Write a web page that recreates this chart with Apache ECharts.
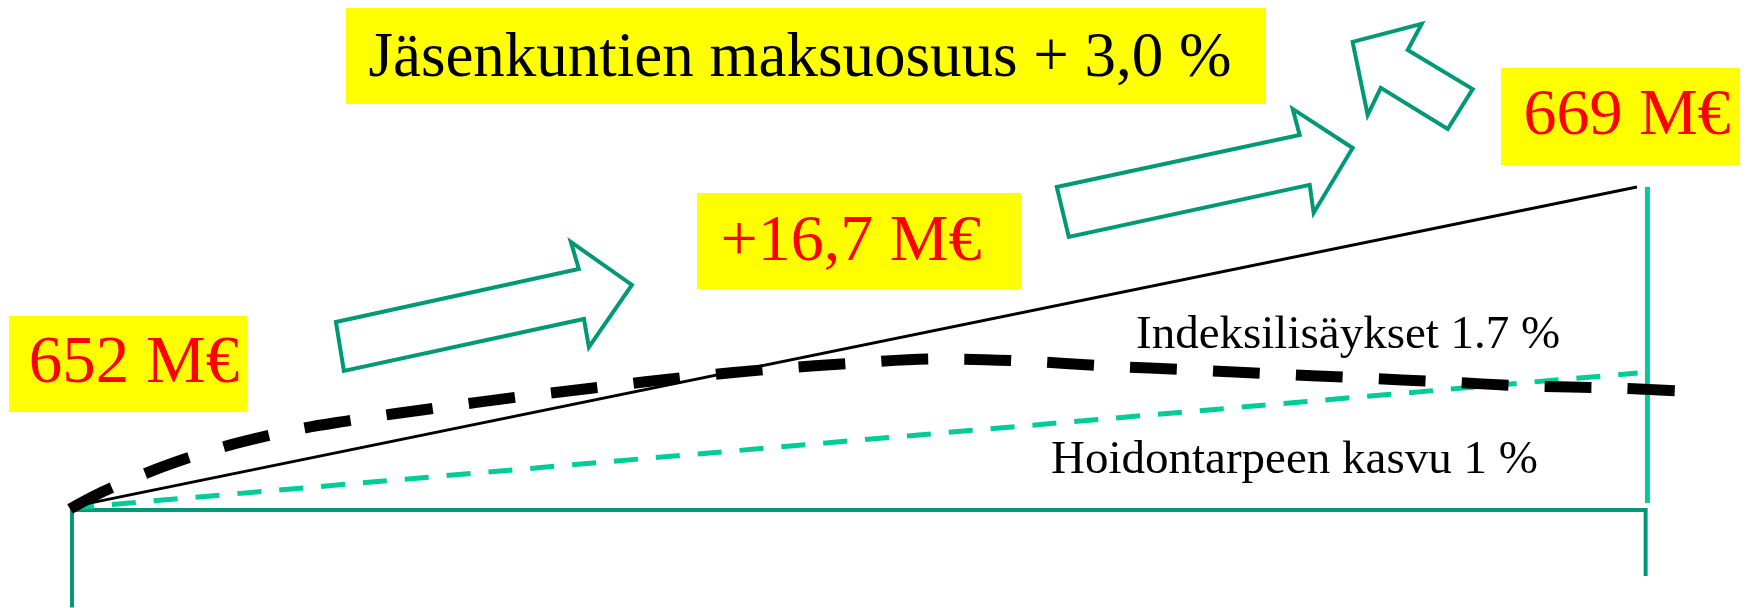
<!DOCTYPE html>
<html>
<head>
<meta charset="utf-8">
<script src="https://cdn.jsdelivr.net/npm/echarts@6/dist/echarts.min.js"></script>
<style>
html,body{margin:0;padding:0;background:#fff;}
#c{width:1746px;height:608px;}
</style>
</head>
<body>
<div id="c"></div>
<script>
// ---- data (x: months 0..12, y: M€) ----
const startValue = 652;
const endValue = 669;
const titleText = 'Jäsenkuntien maksuosuus + 3,0 %';
const deltaText = '+16,7 M€';
const startText = '652 M€';
const endText = '669 M€';
const indexLabel = 'Indeksilisäykset 1.7 %';
const careLabel = 'Hoidontarpeen kasvu 1 %';

const totalLine = [[0, 652.1], [11.98, 669]];
const careLine = [[0, 652.05], [11.985, 659.18]];
const careVertical = [[12.06, 652.32], [12.06, 669]];
const indexCurve = [
  [0, 652.0], [0.313, 653.11], [0.925, 654.75], [1.536, 655.91], [2.163, 656.70],
  [2.797, 657.33], [3.424, 657.91], [4.066, 658.44], [4.731, 658.97], [5.373, 659.39],
  [6.015, 659.71], [6.650, 659.92], [7.292, 659.81], [7.926, 659.55], [8.583, 659.34],
  [9.218, 659.13], [9.860, 658.92], [10.510, 658.71], [11.152, 658.49], [11.786, 658.39],
  [12.306, 658.23]
];
const frameLine = [[0.015, 646.8], [0.015, 651.95], [12.046, 651.95], [12.046, 648.46]];

const arrow1 = [[2.033, 661.87], [3.890, 664.67], [3.829, 666.10], [4.296, 663.83], [3.967, 660.55], [3.929, 662.03], [2.094, 659.29]];
const arrow2 = [[7.544, 669.00], [9.401, 671.75], [9.348, 673.12], [9.806, 671.06], [9.508, 667.63], [9.478, 669.11], [7.636, 666.36]];
const arrow3 = [[9.806, 676.66], [10.334, 677.61], [10.227, 676.23], [10.724, 674.17], [10.533, 672.06], [10.021, 674.23], [9.921, 672.80]];
const arrows = [arrow1, arrow2, arrow3];

// ---- chart ----
const chart = echarts.init(document.getElementById('c'), null, {renderer: 'canvas'});
const FONT = '"Liberation Serif", "Times New Roman", serif';
const GREEN = '#009977';
const TEAL = '#00CC99';

function box(x, y, w, h, text, tx, ty, size, color) {
  return [
    {type: 'rect', shape: {x: x, y: y, width: w, height: h}, style: {fill: '#FFFF00'}, z: 10},
    {type: 'text', x: tx, y: ty, style: {text: text, fontFamily: FONT, fontSize: size, fill: color, align: 'center', verticalAlign: 'middle'}, z: 11}
  ];
}

chart.setOption({
  animation: false,
  backgroundColor: '#fff',
  grid: {left: 70, right: 41, top: 16.5, bottom: 0.5},
  xAxis: {type: 'value', min: 0, max: 12.5, show: false},
  yAxis: {type: 'value', min: 646.8, max: 678, show: false},
  series: [
    {type: 'line', data: frameLine, symbol: 'none', clip: false, z: 2,
     lineStyle: {color: GREEN, width: 4, join: 'miter'}},
    {type: 'line', data: careVertical, symbol: 'none', clip: false, z: 3,
     lineStyle: {color: TEAL, width: 5}},
    {type: 'line', data: careLine, symbol: 'none', clip: false, z: 3,
     lineStyle: {color: TEAL, width: 5, type: [24, 18]}},
    {type: 'line', data: totalLine, symbol: 'none', clip: false, z: 4,
     lineStyle: {color: '#000', width: 3}},
    {type: 'line', data: indexCurve, symbol: 'none', smooth: 0.4, clip: false, z: 5,
     lineStyle: {color: '#000', width: 11, type: [47, 36], cap: 'butt'}},
    {type: 'custom', clip: false, z: 6,
     data: arrows.map(function (a, i) { return [i]; }),
     renderItem: function (params, api) {
       const pts = arrows[params.dataIndex].map(function (p) { return api.coord(p); });
       return {type: 'polygon', shape: {points: pts},
               style: {fill: '#fff', stroke: GREEN, lineWidth: 4, lineJoin: 'miter'}};
     }}
  ],
  graphic: [].concat(
    box(346, 8, 920, 96, titleText, 800, 59, 63, '#000'),
    box(697, 193, 324, 96, deltaText, 851, 243, 66, '#FF0000'),
    box(9, 316, 238, 96, startText, 134, 364, 67, '#FF0000'),
    box(1501, 68, 239, 97, endText, 1627, 117, 66, '#FF0000'),
    [
      {type: 'text', x: 1136, y: 336, style: {text: indexLabel, fontFamily: FONT, fontSize: 47, fill: '#000', align: 'left', verticalAlign: 'middle'}, z: 11},
      {type: 'text', x: 1051, y: 461, style: {text: careLabel, fontFamily: FONT, fontSize: 47, fill: '#000', align: 'left', verticalAlign: 'middle'}, z: 11}
    ]
  )
});
</script>
</body>
</html>
